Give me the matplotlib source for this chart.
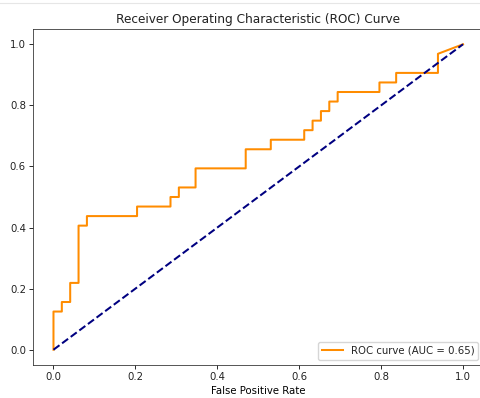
import matplotlib
matplotlib.use("Agg")
import matplotlib.pyplot as plt
from matplotlib.lines import Line2D

# ROC curve points (false positive rate, true positive rate)
fpr = [0.0, 0.0, 1/49, 1/49, 2/49, 2/49, 3/49, 3/49, 4/49, 4/49, 10/49, 10/49,
       14/49, 14/49, 15/49, 15/49, 17/49, 17/49, 23/49, 23/49, 26/49, 26/49,
       30/49, 30/49, 31/49, 31/49, 32/49, 32/49, 33/49, 33/49, 34/49, 34/49,
       39/49, 39/49, 41/49, 41/49, 46/49, 46/49, 1.0]
tpr = [0.0, 4/32, 4/32, 5/32, 5/32, 7/32, 7/32, 13/32, 13/32, 14/32, 14/32, 15/32,
       15/32, 16/32, 16/32, 17/32, 17/32, 19/32, 19/32, 21/32, 21/32, 22/32,
       22/32, 23/32, 23/32, 24/32, 24/32, 25/32, 25/32, 26/32, 26/32, 27/32,
       27/32, 28/32, 28/32, 29/32, 29/32, 31/32, 1.0]
auc_value = 0.65
diag = [0, 1]

s = 0.73
plt.rcParams.update({
    "font.size": 10 * s,
    "axes.linewidth": 0.8 * s,
    "axes.edgecolor": "#333333",
    "xtick.major.size": 3.5 * s,
    "ytick.major.size": 3.5 * s,
    "xtick.major.width": 0.8 * s,
    "ytick.major.width": 0.8 * s,
    "xtick.major.pad": 3.5 * s,
    "ytick.major.pad": 3.5 * s,
    "text.color": "#222222",
    "xtick.labelcolor": "#222222",
    "ytick.labelcolor": "#222222",
})

fig = plt.figure(figsize=(4.8, 3.98), dpi=100)
ax = fig.add_axes([33/480, 33/398, 450.5/480, 336/398])
ax.plot(fpr, tpr, color="darkorange", lw=2 * s, label=f"ROC curve (AUC = {auc_value:.2f})")
ax.plot(diag, diag, color="navy", lw=2 * s, linestyle="--")
ax.set_xlabel("False Positive Rate", fontsize=10 * s, labelpad=4 * s)
ax.set_title("Receiver Operating Characteristic (ROC) Curve", fontsize=12 * s, pad=6 * s)
ax.legend(loc="lower right", fontsize=10 * s)

fig.add_artist(Line2D([0, 1], [1 - 2.5/398, 1 - 2.5/398], color="#e6e6e6", lw=0.8))

fig.savefig("out.png", dpi=100)
